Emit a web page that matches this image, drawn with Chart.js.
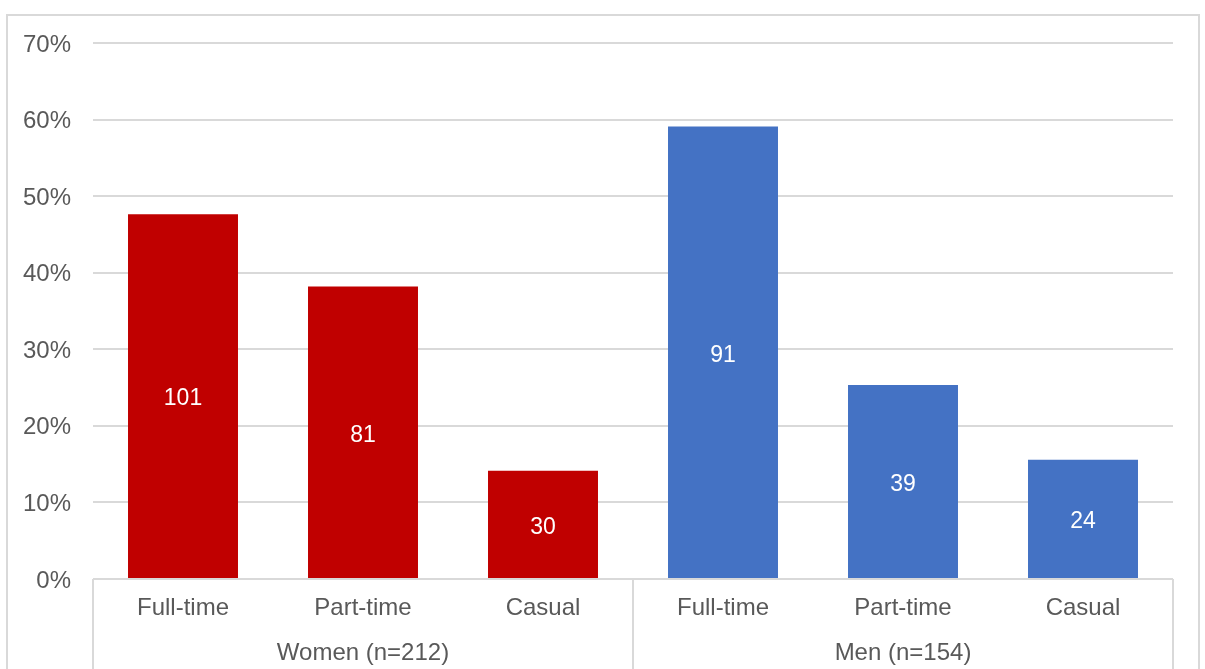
<!DOCTYPE html>
<html>
<head>
<meta charset="utf-8">
<script src="https://cdn.jsdelivr.net/npm/chart.js@4/dist/chart.umd.min.js"></script>
<style>
  html, body { margin: 0; padding: 0; background: #ffffff; }
  #wrap { position: relative; width: 1205px; height: 669px; }
</style>
</head>
<body>
<div id="wrap"><canvas id="c" width="1205" height="669"></canvas></div>
<script>
// Employment type by gender: respondent counts and group sizes
const groupNames = ['Women (n=212)', 'Men (n=154)'];
const groupTotals = [212, 154];
const categories = ['Full-time', 'Part-time', 'Casual'];
const womenCounts = [101, 81, 30];
const menCounts = [91, 39, 24];
const groupColors = ['#c00000', '#4472c4'];
const yMax = 70;
const yStep = 10;

const TEXT = '#595959';
const FONT = "'Liberation Sans', Arial, sans-serif";
const GRID = '#d9d9d9';

// Flatten the groups into one row of bars
const counts = [...womenCounts, ...menCounts];
const totals = [...womenCounts.map(() => groupTotals[0]), ...menCounts.map(() => groupTotals[1])];
const shares = counts.map((c, i) => c / totals[i] * 100);
const labels = [...categories, ...categories];
const colors = [...womenCounts.map(() => groupColors[0]), ...menCounts.map(() => groupColors[1])];

// Count labels centred inside each bar
const barCounts = {
  id: 'barCounts',
  afterDatasetsDraw(chart) {
    const ctx = chart.ctx;
    const meta = chart.getDatasetMeta(0);
    ctx.save();
    ctx.fillStyle = '#ffffff';
    ctx.font = '23px ' + FONT;
    ctx.textAlign = 'center';
    ctx.textBaseline = 'middle';
    meta.data.forEach((bar, i) => {
      ctx.fillText(String(counts[i]), bar.x, (bar.y + bar.base) / 2 + 3);
    });
    ctx.restore();
  }
};

// Outer frame, group separators and group captions below the category labels
const groupAxis = {
  id: 'groupAxis',
  afterDraw(chart) {
    const ctx = chart.ctx;
    const x = chart.scales.x;
    const area = chart.chartArea;
    const perGroup = categories.length;
    const half = (x.getPixelForValue(1) - x.getPixelForValue(0)) / 2;
    ctx.save();
    ctx.strokeStyle = GRID;
    ctx.lineWidth = 2;
    ctx.strokeRect(7, 15, chart.width - 13, chart.height + 20);
    const edges = [];
    for (let g = 0; g <= groupNames.length; g++) {
      const idx = g * perGroup;
      edges.push(idx < labels.length ? x.getPixelForValue(idx) - half : x.getPixelForValue(labels.length - 1) + half);
    }
    edges.forEach(px => {
      ctx.beginPath();
      ctx.moveTo(Math.round(px), area.bottom);
      ctx.lineTo(Math.round(px), chart.height);
      ctx.stroke();
    });
    ctx.fillStyle = TEXT;
    ctx.font = '24px ' + FONT;
    ctx.textAlign = 'center';
    ctx.textBaseline = 'middle';
    groupNames.forEach((name, g) => {
      ctx.fillText(name, (edges[g] + edges[g + 1]) / 2, 653);
    });
    ctx.restore();
  }
};

new Chart(document.getElementById('c'), {
  type: 'bar',
  data: {
    labels: labels,
    datasets: [{
      data: shares,
      backgroundColor: colors,
      borderWidth: 0,
      categoryPercentage: 1,
      barPercentage: 0.611
    }]
  },
  options: {
    responsive: false,
    animation: false,
    devicePixelRatio: 1,
    layout: { padding: { left: 0, right: 32, top: 43, bottom: 0 } },
    plugins: { legend: { display: false }, tooltip: { enabled: false } },
    scales: {
      x: {
        grid: { display: false, drawTicks: false },
        border: { display: false },
        ticks: { color: TEXT, font: { family: FONT, size: 24 }, padding: 15, maxRotation: 0, autoSkip: false },
        afterFit(scale) { scale.height = 90; }
      },
      y: {
        min: 0,
        max: yMax,
        grid: { color: GRID, lineWidth: 2, drawTicks: false },
        border: { display: false },
        ticks: {
          stepSize: yStep,
          color: TEXT,
          font: { family: FONT, size: 24, lineHeight: 1.0 },
          padding: 22,
          labelOffset: 2,
          callback: v => v + '%'
        },
        afterFit(scale) { scale.width = 93; }
      }
    }
  },
  plugins: [barCounts, groupAxis]
});
</script>
</body>
</html>
